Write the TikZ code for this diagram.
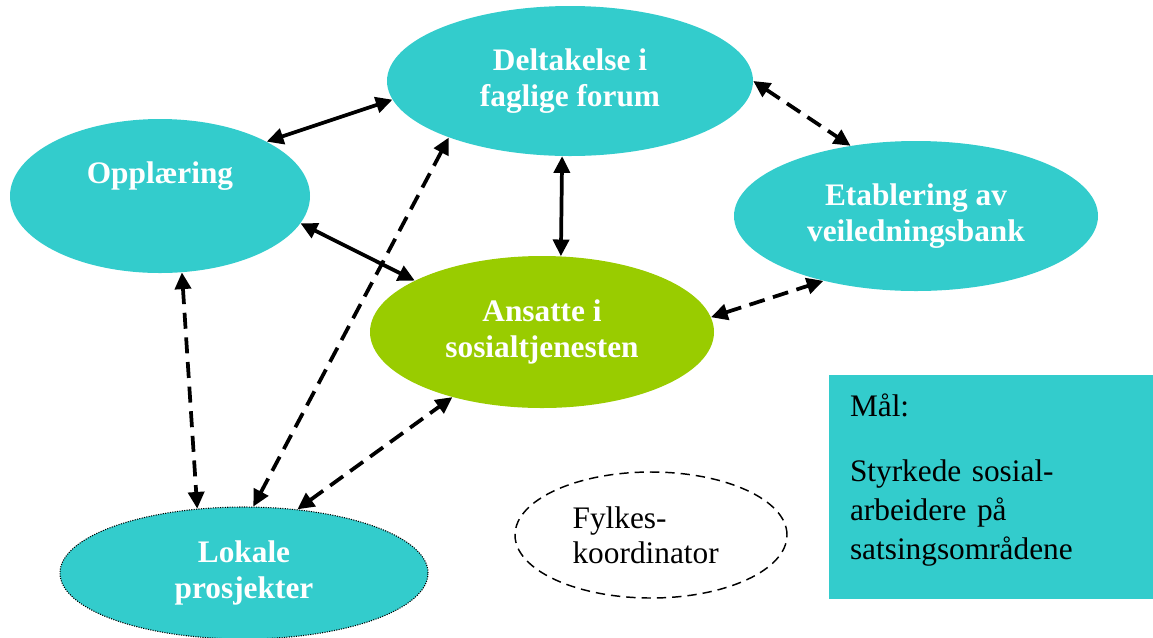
\documentclass[tikz,border=0pt]{standalone}
\usepackage{fontspec}
\setmainfont{Liberation Serif}
\usetikzlibrary{shapes.geometric,arrows.meta}
\definecolor{tealfill}{HTML}{33CCCC}
\definecolor{limefill}{HTML}{99CC00}
\pgfdeclarelayer{bg}
\pgfsetlayers{bg,main}

\begin{document}
\begin{tikzpicture}[x=0.75pt,y=-0.75pt,
        bubble/.style={ellipse, fill=tealfill, inner sep=0pt, align=center, text=white,
                font=\fontsize{23.5}{27.5}\selectfont\bfseries},
        link/.style={line width=2.8pt,
                {Triangle[length=12.5pt,width=12pt]}-{Triangle[length=12.5pt,width=12pt]}},
        dlink/.style={link, dash pattern=on 12pt off 6.5pt}]
        \useasboundingbox (0,0) rectangle (1153,637);
        \node (forum) [bubble, minimum width=274.5pt, minimum height=112.5pt] at (570,81) {Deltakelse i\\faglige forum};
        \node (opp) [bubble, minimum width=225pt, minimum height=115.5pt] at (160,196) {Opplæring\\[8pt]~};
        \node (etab) [bubble, minimum width=273pt, minimum height=112.5pt] at (916,216) {Etablering av\\veiledningsbank};
        \node (ans) [bubble, fill=limefill, minimum width=258pt, minimum height=114pt] at (542,332) {Ansatte i\\sosialtjenesten};
        \node (lok) [bubble, draw=black, densely dotted, line width=0.8pt, minimum width=276pt, minimum height=99pt] at (244,573) {Lokale\\prosjekter};
        \node (fylke) [ellipse, draw, dash pattern=on 7pt off 4.5pt, line width=1.1pt, inner sep=0pt, align=left,
                minimum width=204pt, minimum height=94.5pt, font=\fontsize{23.5}{26.5}\selectfont] at (651,535)
                {\hspace*{-8pt}Fylkes-\\\hspace*{-8pt}koordinator};
        \node (maal) [rectangle, fill=tealfill, minimum width=243pt, minimum height=168pt, inner xsep=15.75pt,
                text width=211.5pt, align=left, font=\fontsize{23.5}{29}\selectfont] at (991,487)
                {Mål:\\[20pt]Styrkede sosial-\\arbeidere på\\satsingsområdene\rule[-16pt]{0pt}{0pt}};
        \begin{pgfonlayer}{bg}
                \draw (opp.27) edge [link] (forum.186);
                \draw (opp.349) edge [link] (ans.158);
                \draw (forum.264) edge [link] (ans.76);
                \draw (forum.0) edge [dlink] (etab.133);
                \draw (ans.5) edge [dlink] (etab.215);
                \draw (opp.286) edge [dlink] (lok.126);
                \draw (lok.82) edge [dlink] (forum.205);
                \draw (lok.50) edge [dlink] (ans.216);
        \end{pgfonlayer}
\end{tikzpicture}
\end{document}
